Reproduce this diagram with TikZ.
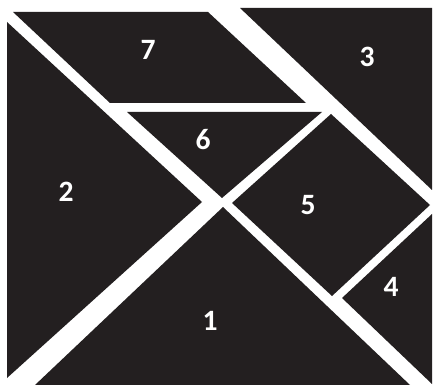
\documentclass[tikz,border=0pt]{standalone}
\usepackage{fontspec}
\usepackage{xcolor}
\usepackage{tikz}
\newfontfamily\carlito{Carlito}
\definecolor{tanblack}{RGB}{35,31,32}
\newcommand{\tannumfont}{\carlito\bfseries\fontsize{21}{24}\selectfont}

\begin{document}
\begin{tikzpicture}[
    x=0.025cm, y=-0.025cm,
    piece/.style={fill=tanblack, draw=none},
    num/.style={text=white, font=\tannumfont, inner sep=0pt}
]
\useasboundingbox[fill=white] (0,0) rectangle (439,385);
\fill[piece] (7,22) -- (202,202) -- (7,378) -- cycle;
\fill[piece] (223,207) -- (410,385) -- (35,385) -- cycle;
\fill[piece] (240,8) -- (432,8) -- (432,190) -- cycle;
\fill[piece] (432,214) -- (342,298) -- (432,384) -- cycle;
\fill[piece] (331,114) -- (430,205) -- (332,296) -- (232,203) -- cycle;
\fill[piece] (127,112) -- (322,112) -- (222,198) -- cycle;
\fill[piece] (13,12) -- (208,12) -- (306,103) -- (110,103) -- cycle;
\node[num] (n1) at (210,321) {1};
\node[num] (n2) at (66,192) {2};
\node[num] (n3) at (367,57) {3};
\node[num] (n4) at (391,287) {4};
\node[num] (n5) at (308,205) {5};
\node[num] (n6) at (203,140) {6};
\node[num] (n7) at (148,50) {7};
\end{tikzpicture}
\end{document}
